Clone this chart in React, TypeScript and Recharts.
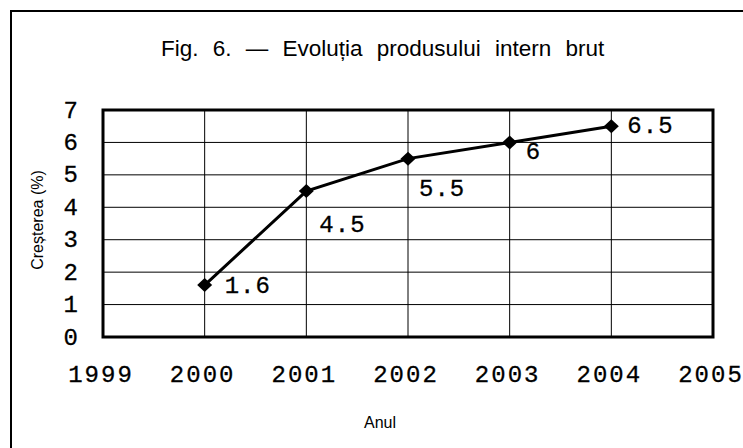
import React from "react";
import { LineChart, Line, XAxis, YAxis, CartesianGrid, ReferenceArea } from "recharts";

const years = [2000, 2001, 2002, 2003, 2004];
const growth = [1.6, 4.5, 5.5, 6, 6.5];
const xTicks = [1999, 2000, 2001, 2002, 2003, 2004, 2005];
const yTicks = [0, 1, 2, 3, 4, 5, 6, 7];
const labelOffsets: [number, number][] = [[20, 1], [13, 34], [11, 31], [16, 10], [16, 0]];

const data = years.map((y, i) => ({ year: y, value: growth[i] }));

const MONO = "'Liberation Mono', 'Courier New', monospace";
const SANS = "'Liberation Sans', Arial, sans-serif";

const XTick = (props: any) => {
  const { x, y, payload } = props;
  return (
    <text x={x - 2} y={y} textAnchor="middle" dominantBaseline="central" fontFamily={MONO} fontSize={24} letterSpacing={2} stroke="#000" strokeWidth={0.3} fill="#000">
      {payload.value}
    </text>
  );
};

const YTick = (props: any) => {
  const { x, y, payload } = props;
  return (
    <text x={x} y={y + 1} textAnchor="end" dominantBaseline="central" fontFamily={MONO} fontSize={24} stroke="#000" strokeWidth={0.3} fill="#000">
      {payload.value}
    </text>
  );
};

const Diamond = (props: any) => {
  const { cx, cy, index } = props;
  if (cx == null || cy == null) return <g key={index} />;
  return <polygon key={index} points={`${cx - 7.5},${cy} ${cx},${cy - 7} ${cx + 7.5},${cy} ${cx},${cy + 7}`} fill="#000" />;
};

const PointLabel = (props: any) => {
  const { x, y, value, index } = props;
  const [dx, dy] = labelOffsets[index] || [10, 0];
  return (
    <text key={index} x={x + dx} y={y + dy} textAnchor="start" dominantBaseline="central" fontFamily={MONO} fontSize={24} letterSpacing={1} stroke="#000" strokeWidth={0.3} fill="#000">
      {value}
    </text>
  );
};

export default function App() {
  return (
    <div style={{ position: "relative", width: 743, height: 448, background: "#fff" }}>
      <style>{"body{margin:0}"}</style>
      <svg width={743} height={448} style={{ position: "absolute", left: 0, top: 0 }}>
        <line x1={11} y1={10} x2={11} y2={448} stroke="#000" strokeWidth={2} />
        <line x1={10} y1={11} x2={743} y2={11} stroke="#000" strokeWidth={2} />
        <text x={161} y={56} fontFamily={SANS} fontSize={22.5} wordSpacing={8} fill="#000">
          Fig. 6. — Evoluția produsului intern brut
        </text>
        <text x={37} y={220} transform="rotate(-90 37 220)" textAnchor="middle" dominantBaseline="central" fontFamily={SANS} fontSize={16} fill="#000">
          Creșterea (%)
        </text>
        <text x={380} y={428} textAnchor="middle" fontFamily={SANS} fontSize={16} fill="#000">
          Anul
        </text>
      </svg>
      <div style={{ position: "absolute", left: 0, top: 0 }}>
        <LineChart width={743} height={448} data={data} margin={{ top: 110, right: 30, bottom: 51, left: 43 }}>
          <CartesianGrid stroke="#000" strokeWidth={1} />
          <XAxis
            dataKey="year"
            type="number"
            domain={[1999, 2005]}
            ticks={xTicks}
            interval={0}
            axisLine={false}
            tickLine={false}
            tickSize={0}
            tickMargin={38}
            height={60}
            tick={<XTick />}
          />
          <YAxis
            type="number"
            domain={[0, 7]}
            ticks={yTicks}
            interval={0}
            axisLine={false}
            tickLine={false}
            tickSize={0}
            tickMargin={25}
            width={60}
            tick={<YTick />}
          />
          <ReferenceArea x1={1999} x2={2005} y1={0} y2={7} fill="none" fillOpacity={0} stroke="#000" strokeWidth={3} ifOverflow="visible" />
          <Line
            dataKey="value"
            stroke="#000"
            strokeWidth={3}
            isAnimationActive={false}
            dot={<Diamond />}
            activeDot={false}
            label={<PointLabel />}
          />
        </LineChart>
      </div>
    </div>
  );
}
